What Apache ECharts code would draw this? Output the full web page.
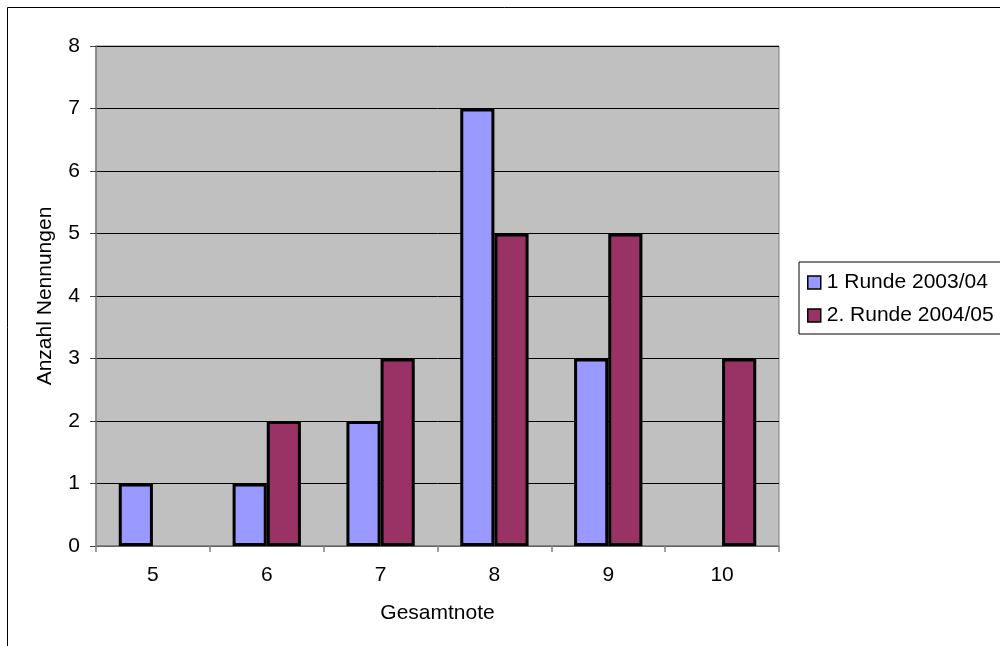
<!DOCTYPE html>
<html>
<head>
<meta charset="utf-8">
<script src="https://cdn.jsdelivr.net/npm/echarts@6/dist/echarts.min.js"></script>
<style>
html,body{margin:0;padding:0;background:#fff;}
#chart{width:1000px;height:646px;}
</style>
</head>
<body>
<div id="chart"></div>
<script>
// Gesamtnote categories and count of mentions per round
var categories = ['5', '6', '7', '8', '9', '10'];
var round1 = [1, 1, 2, 7, 3, null];
var round2 = [null, 2, 3, 5, 5, 3];
var yTicks = [0, 1, 2, 3, 4, 5, 6, 7, 8];

var font = 'Liberation Sans, Arial, sans-serif';
var fs = 21;
var chart = echarts.init(document.getElementById('chart'));
chart.setOption({
  animation: false,
  backgroundColor: '#fff',
  textStyle: { fontFamily: font, color: '#000' },
  graphic: [{
    type: 'rect',
    shape: { x: 7.5, y: 7.5, width: 1100, height: 800 },
    style: { fill: 'none', stroke: '#000', lineWidth: 1 },
    silent: true
  }],
  grid: {
    left: 96, top: 46, right: 221, bottom: 100,
    show: true, backgroundColor: '#C0C0C0',
    borderColor: '#808080', borderWidth: 1
  },
  legend: {
    orient: 'vertical',
    left: 799, top: 262,
    padding: [10, 20, 8, 8],
    itemGap: 12,
    itemWidth: 13, itemHeight: 13,
    itemStyle: { borderColor: '#000', borderWidth: 1.5 },
    icon: 'rect',
    borderColor: '#000', borderWidth: 1,
    backgroundColor: '#fff',
    textStyle: { fontFamily: font, fontSize: fs, color: '#000', padding: [0, 0, 0, 1] },
    data: ['1 Runde 2003/04', '2. Runde 2004/05']
  },
  xAxis: {
    type: 'category',
    data: categories,
    name: 'Gesamtnote',
    nameLocation: 'middle',
    nameGap: 57,
    nameTextStyle: { fontFamily: font, fontSize: fs, color: '#000' },
    axisLine: { lineStyle: { color: '#808080', width: 1.5 } },
    axisTick: { show: true, length: 6, alignWithLabel: false, lineStyle: { color: '#808080', width: 1.5 } },
    axisLabel: { fontFamily: font, fontSize: fs, color: '#000', margin: 19 },
    splitLine: { show: false }
  },
  yAxis: {
    type: 'value',
    min: 0, max: 8, interval: 1,
    name: 'Anzahl Nennungen',
    nameLocation: 'middle',
    nameGap: 40,
    nameTextStyle: { fontFamily: font, fontSize: fs, color: '#000' },
    axisLine: { show: true, lineStyle: { color: '#808080', width: 1.5 } },
    axisTick: { show: true, length: 6, lineStyle: { color: '#404040', width: 1 } },
    axisLabel: {
      fontFamily: font, fontSize: fs, color: '#000', margin: 16,
      formatter: function (v) { return yTicks.indexOf(v) >= 0 ? String(v) : ''; }
    },
    splitLine: { show: true, lineStyle: { color: '#000', width: 1 } }
  },
  series: [{
    name: '1 Runde 2003/04',
    type: 'bar',
    data: round1,
    barGap: '0%',
    barCategoryGap: '40%',
    itemStyle: { color: '#9999FF', borderColor: '#000', borderWidth: 3 }
  }, {
    name: '2. Runde 2004/05',
    type: 'bar',
    data: round2,
    barGap: '0%',
    barCategoryGap: '40%',
    itemStyle: { color: '#993366', borderColor: '#000', borderWidth: 3 }
  }]
});
</script>
</body>
</html>
